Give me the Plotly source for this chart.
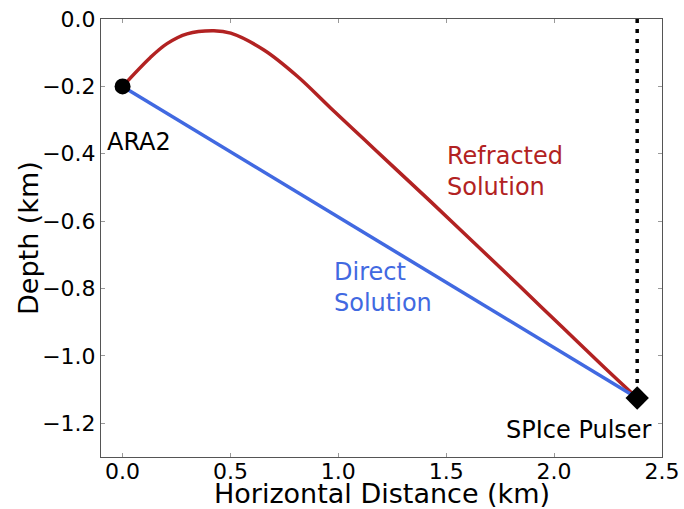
import plotly.graph_objects as go

# Station and pulser positions (km)
ara2_x, ara2_y = 0.0, -0.2
pulser_x, pulser_y = 2.385, -1.125

# Refracted ray path (km)
refr_x = [0.0, 0.129, 0.206, 0.299, 0.423, 0.501, 0.655, 0.810, 0.964,
          1.119, 1.274, 1.428, 1.630, 1.785, 1.939, 2.094, 2.249, 2.385]
refr_y = [-0.2, -0.114, -0.073, -0.044, -0.035, -0.042, -0.092, -0.170, -0.264,
          -0.357, -0.450, -0.542, -0.665, -0.759, -0.854, -0.949, -1.044, -1.125]

# Direct ray path (straight line)
direct_x = [ara2_x, pulser_x]
direct_y = [ara2_y, pulser_y]

# Borehole (surface down to the pulser)
hole_x = [pulser_x, pulser_x]
hole_y = [0.0, pulser_y]

x_ticks = [0.0, 0.5, 1.0, 1.5, 2.0, 2.5]
x_labels = ["0.0", "0.5", "1.0", "1.5", "2.0", "2.5"]
y_ticks = [0.0, -0.2, -0.4, -0.6, -0.8, -1.0, -1.2]
y_labels = ["0.0", "\u22120.2", "\u22120.4", "\u22120.6", "\u22120.8", "\u22121.0", "\u22121.2"]

RED = "#b22222"
BLUE = "#4169e1"
FONT = "DejaVu Sans"

fig = go.Figure()
fig.add_trace(go.Scatter(x=hole_x, y=hole_y, mode="lines",
                         line=dict(color="black", width=3.5, dash="4px,6px"),
                         hoverinfo="skip"))
fig.add_trace(go.Scatter(x=refr_x, y=refr_y, mode="lines",
                         line=dict(color=RED, width=3.5, shape="spline", smoothing=1.0)))
fig.add_trace(go.Scatter(x=direct_x, y=direct_y, mode="lines",
                         line=dict(color=BLUE, width=3.5)))
fig.add_trace(go.Scatter(x=[ara2_x], y=[ara2_y], mode="markers",
                         marker=dict(symbol="circle", size=16, color="black")))
fig.add_trace(go.Scatter(x=[pulser_x], y=[pulser_y], mode="markers",
                         marker=dict(symbol="diamond", size=18, color="black")))

ann_font = dict(family=FONT, size=24)
fig.add_annotation(x=-0.08, y=-0.366, text="ARA2", showarrow=False,
                   xanchor="left", yanchor="middle", font=dict(ann_font, color="black"))
fig.add_annotation(x=2.465, y=-1.22, text="SPIce Pulser", showarrow=False,
                   xanchor="right", yanchor="middle", font=dict(ann_font, color="black"))
fig.add_annotation(x=1.492, y=-0.452, text="Refracted<br>Solution", showarrow=False,
                   xanchor="left", yanchor="middle", align="left",
                   font=dict(ann_font, color=RED))
fig.add_annotation(x=0.970, y=-0.798, text="Direct<br>Solution", showarrow=False,
                   xanchor="left", yanchor="middle", align="left",
                   font=dict(ann_font, color=BLUE))

# Axis titles
fig.add_annotation(x=0.5, y=0, xref="paper", yref="paper", yshift=-36,
                   text="Horizontal Distance (km)", showarrow=False,
                   xanchor="center", yanchor="middle",
                   font=dict(family=FONT, size=27, color="black"))
fig.add_annotation(x=0, y=0.5, xref="paper", yref="paper", xshift=-73,
                   text="Depth (km)", showarrow=False, textangle=-90,
                   xanchor="center", yanchor="middle",
                   font=dict(family=FONT, size=27, color="black"))

axis_common = dict(showgrid=False, zeroline=False, showline=True, linecolor="#555",
                   linewidth=1, mirror="ticks", ticks="inside", ticklen=4,
                   tickcolor="#999", tickwidth=1, automargin=False,
                   tickfont=dict(family=FONT, size=22, color="black"))

fig.update_xaxes(range=[-0.1, 2.5], tickvals=x_ticks, ticktext=x_labels,
                 ticklabelstandoff=-5, **axis_common)
fig.update_yaxes(range=[-1.3, 0.0], tickvals=y_ticks, ticktext=y_labels, **axis_common)

fig.update_layout(width=684, height=509, showlegend=False,
                  paper_bgcolor="white", plot_bgcolor="white",
                  margin=dict(l=101, r=22, t=19, b=52))

fig.write_html("out.html")
